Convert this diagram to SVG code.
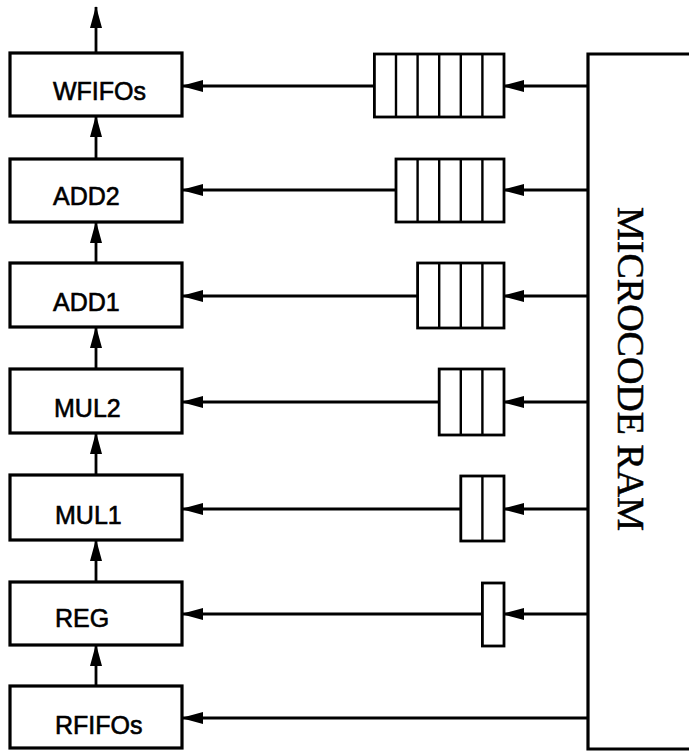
<svg xmlns="http://www.w3.org/2000/svg" width="689" height="753" viewBox="0 0 689 753">
<style>
.box{fill:#fff;stroke:#000;stroke-width:3.2}
.q{fill:#fff;stroke:#000;stroke-width:2.8}
.d{stroke:#000;stroke-width:2.4}
.lbl{font-family:"Liberation Sans",Arial,sans-serif;font-size:25px;fill:#000;stroke:#000;stroke-width:0.6}
.ram{font-family:"Liberation Serif","Times New Roman",serif;font-size:38px;fill:#000;stroke:#000;stroke-width:0.5}
.c{fill:none;stroke:#000;stroke-width:2.8}
.arr{marker-end:url(#ah)}
</style>
<defs>
<marker id="ah" viewBox="0 0 22 12" refX="21" refY="6" markerWidth="22" markerHeight="12" orient="auto" markerUnits="userSpaceOnUse">
<path d="M0,0 L22,6 L0,12 z" fill="#000"/>
</marker>
</defs>
<rect width="689" height="753" fill="#fff"/>

<g id="connectors">
<line class="c arr" x1="96" y1="53" x2="96" y2="7"/>
<line class="c arr" x1="96" y1="159" x2="96" y2="116"/>
<line class="c arr" x1="96" y1="263" x2="96" y2="222"/>
<line class="c arr" x1="96" y1="369" x2="96" y2="327"/>
<line class="c arr" x1="96" y1="475" x2="96" y2="433"/>
<line class="c arr" x1="96" y1="582" x2="96" y2="540"/>
<line class="c arr" x1="96" y1="686" x2="96" y2="645"/>
<line class="c arr" x1="374" y1="86" x2="182" y2="86"/>
<line class="c arr" x1="396" y1="190" x2="182" y2="190"/>
<line class="c arr" x1="418" y1="296" x2="182" y2="296"/>
<line class="c arr" x1="439" y1="402" x2="182" y2="402"/>
<line class="c arr" x1="461" y1="509" x2="182" y2="509"/>
<line class="c arr" x1="482" y1="614" x2="182" y2="614"/>
<line class="c arr" x1="588" y1="718" x2="182" y2="718"/>
<line class="c arr" x1="588" y1="86" x2="503" y2="86"/>
<line class="c arr" x1="588" y1="190" x2="503" y2="190"/>
<line class="c arr" x1="588" y1="296" x2="503" y2="296"/>
<line class="c arr" x1="588" y1="402" x2="503" y2="402"/>
<line class="c arr" x1="588" y1="509" x2="503" y2="509"/>
<line class="c arr" x1="588" y1="614" x2="503" y2="614"/>
</g>

<g id="microcode-ram">
<path d="M689,54 H588 V749 H689" fill="none" stroke="#000" stroke-width="3.2"/>
<text class="ram" transform="translate(618,207) rotate(90)">MICROCODE RAM</text>
</g>

<g id="wfifos">
<rect class="box" x="10" y="53" width="172" height="63"/>
<text class="lbl" x="53" y="100">WFIFOs</text>
</g>
<g id="add2">
<rect class="box" x="10" y="159" width="172" height="63"/>
<text class="lbl" x="53" y="205">ADD2</text>
</g>
<g id="add1">
<rect class="box" x="10" y="263" width="172" height="64"/>
<text class="lbl" x="53" y="311">ADD1</text>
</g>
<g id="mul2">
<rect class="box" x="10" y="369" width="172" height="64"/>
<text class="lbl" x="54" y="417">MUL2</text>
</g>
<g id="mul1">
<rect class="box" x="10" y="475" width="172" height="65"/>
<text class="lbl" x="55" y="524">MUL1</text>
</g>
<g id="reg">
<rect class="box" x="10" y="582" width="172" height="63"/>
<text class="lbl" x="55" y="627">REG</text>
</g>
<g id="rfifos">
<rect class="box" x="10" y="686" width="172" height="62"/>
<text class="lbl" x="55" y="734">RFIFOs</text>
</g>

<g id="queue-wfifos">
<rect class="q" x="374.4" y="54" width="129.6" height="63"/>
<path class="d" d="M396,54V117M417.6,54V117M439.2,54V117M460.8,54V117M482.4,54V117"/>
</g>
<g id="queue-add2">
<rect class="q" x="396" y="159" width="108" height="63"/>
<path class="d" d="M417.6,159V222M439.2,159V222M460.8,159V222M482.4,159V222"/>
</g>
<g id="queue-add1">
<rect class="q" x="417.6" y="263" width="86.4" height="65"/>
<path class="d" d="M439.2,263V328M460.8,263V328M482.4,263V328"/>
</g>
<g id="queue-mul2">
<rect class="q" x="439.2" y="369" width="64.8" height="66"/>
<path class="d" d="M460.8,369V435M482.4,369V435"/>
</g>
<g id="queue-mul1">
<rect class="q" x="460.8" y="476" width="43.2" height="65"/>
<path class="d" d="M482.4,476V541"/>
</g>
<g id="queue-reg">
<rect class="q" x="482.4" y="583" width="21.6" height="63"/>
</g>
</svg>
